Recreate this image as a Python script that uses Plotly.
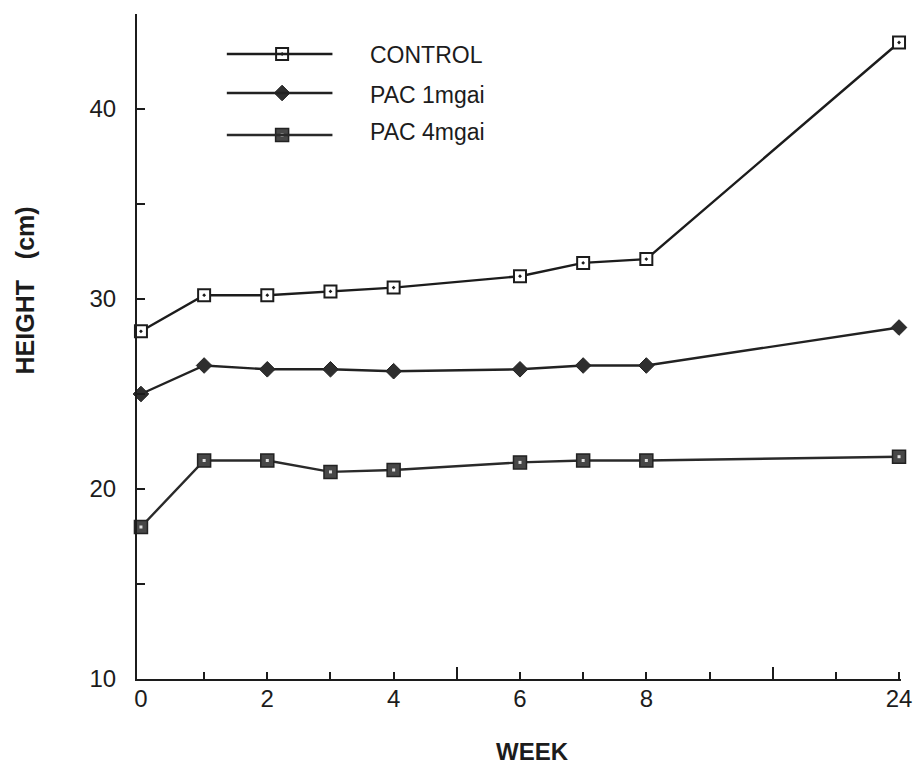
import plotly.graph_objects as go

# ---------------- data ----------------
weeks = [0, 1, 2, 3, 4, 6, 7, 8, 24]
control = [28.3, 30.2, 30.2, 30.4, 30.6, 31.2, 31.9, 32.1, 43.5]
pac1 = [25.0, 26.5, 26.3, 26.3, 26.2, 26.3, 26.5, 26.5, 28.5]
pac4 = [18.0, 21.5, 21.5, 20.9, 21.0, 21.4, 21.5, 21.5, 21.7]
series_names = ["CONTROL", "PAC 1mgai", "PAC 4mgai"]
tick_weeks = [0, 2, 4, 6, 8, 24]
y_tick_labels = [10, 20, 30, 40]


# broken week axis: weeks 0-8 linear, beyond 8 compressed 4:1
def wpos(w):
    return w if w <= 8 else 8 + (w - 8) / 4


xpos = [wpos(w) for w in weeks]

INK = "#1c1c1c"
FONT = "Liberation Sans"

styles = [
    dict(line=dict(color=INK, width=2.4),
         marker=dict(symbol="square-dot", size=12, color="white",
                     line=dict(color=INK, width=2))),
    dict(line=dict(color="#222222", width=2.4),
         marker=dict(symbol="diamond", size=12, color="#2e2e2e",
                     line=dict(color="#222222", width=1))),
    dict(line=dict(color="#2a2a2a", width=2.4),
         marker=dict(symbol="square", size=13, color="#474747",
                     line=dict(color="#222222", width=1.5))),
]

# plot-area geometry (pixels)
L, R, T, B = 137, 911, 14, 679


def px(x):
    return (x - L) / (R - L)


def py(y):
    return (B - y) / (B - T)


fig = go.Figure()
for name, vals, st in zip(series_names, [control, pac1, pac4], styles):
    fig.add_trace(go.Scatter(x=xpos, y=vals, mode="lines+markers", name=name,
                             line=st["line"], marker=st["marker"],
                             cliponaxis=False, showlegend=False))
# light centre dot of the PAC 4mgai squares
fig.add_trace(go.Scatter(x=xpos, y=pac4, mode="markers",
                         marker=dict(symbol="square", size=3, color="#e0e0e0"),
                         cliponaxis=False, showlegend=False, hoverinfo="skip"))

# ---------------- custom legend (pixel overlay axes) ----------------
leg_line_rows = [54, 93, 135]
leg_text_rows = [55, 95, 132]
leg_x0, leg_x1, leg_mx, leg_tx = 228, 335, 284, 371
for i, (name, st) in enumerate(zip(series_names, styles)):
    y = leg_line_rows[i]
    fig.add_shape(type="line", xref="x3", yref="y3", x0=leg_x0, x1=leg_x1,
                  y0=y, y1=y, line=dict(color=st["line"]["color"], width=2.4))
    fig.add_trace(go.Scatter(x=[leg_mx], y=[y], xaxis="x3", yaxis="y3",
                             mode="markers", marker=st["marker"],
                             showlegend=False, hoverinfo="skip", cliponaxis=False))
    fig.add_annotation(x=px(leg_tx), y=py(leg_text_rows[i]), xref="paper",
                       yref="paper", text=name, showarrow=False,
                       xanchor="left", yanchor="middle",
                       font=dict(family=FONT, size=23, color=INK))
fig.add_trace(go.Scatter(x=[leg_mx], y=[leg_line_rows[2]], xaxis="x3", yaxis="y3",
                         mode="markers",
                         marker=dict(symbol="square", size=3, color="#e0e0e0"),
                         showlegend=False, hoverinfo="skip", cliponaxis=False))

# axis titles
fig.add_annotation(x=px(538), y=py(751), xref="paper", yref="paper",
                   text="<b>WEEK</b>", showarrow=False,
                   xanchor="center", yanchor="middle",
                   font=dict(family=FONT, size=24, color=INK))
fig.add_annotation(x=px(24), y=py(290), xref="paper", yref="paper",
                   text="<b>HEIGHT\u00a0\u00a0\u00a0(cm)</b>", textangle=-90,
                   showarrow=False, xanchor="center", yanchor="middle",
                   font=dict(family=FONT, size=25, color=INK))

x_range = [-4 / 64, (R - 141) / 64]
fig.update_layout(
    width=924, height=766,
    margin=dict(l=L, r=924 - R, t=T, b=766 - B),
    paper_bgcolor="white", plot_bgcolor="white",
    showlegend=False,
    font=dict(family=FONT, color=INK),
    xaxis=dict(range=x_range, tickmode="array",
               tickvals=[wpos(w) for w in tick_weeks],
               ticktext=[str(w) for w in tick_weeks],
               ticks="", showgrid=False, zeroline=False,
               showline=True, linecolor=INK, linewidth=2.2,
               tickfont=dict(family=FONT, size=24, color=INK),
               ticklabelstandoff=-3,
               minor=dict(tickmode="array",
                          tickvals=[1, 2, 3, 4, 6, 7, 8, 9, 11, 12],
                          ticks="inside", ticklen=7, tickwidth=2,
                          tickcolor=INK, showgrid=False)),
    xaxis2=dict(range=x_range, overlaying="x", anchor="y", side="bottom",
                tickmode="array", tickvals=[5, 10], ticks="inside",
                ticklen=12, tickwidth=2, tickcolor=INK,
                showticklabels=False, showgrid=False, zeroline=False,
                showline=False),
    yaxis=dict(range=[10, 45], tickmode="array", tickvals=y_tick_labels,
               ticks="inside", ticklen=8, tickwidth=2, tickcolor=INK,
               showgrid=False, zeroline=False,
               showline=True, linecolor=INK, linewidth=2.2,
               tickfont=dict(family=FONT, size=24, color=INK),
               ticklabelstandoff=14,
               minor=dict(dtick=5, tick0=10, ticks="inside", ticklen=8,
                          tickwidth=2, tickcolor=INK, showgrid=False)),
    xaxis3=dict(domain=[0, 1], range=[L, R], overlaying="x", anchor="y3",
                visible=False, fixedrange=True),
    yaxis3=dict(domain=[0, 1], range=[B, T], overlaying="y", anchor="x3",
                visible=False, fixedrange=True),
)
# helper so xaxis2 (long ticks at 5 and 10) is drawn
fig.add_trace(go.Scatter(x=[None], y=[None], xaxis="x2", yaxis="y",
                         showlegend=False, hoverinfo="skip"))

fig.write_html("out.html",
               config={"displayModeBar": False},
               post_script="document.body.style.margin='0';")
